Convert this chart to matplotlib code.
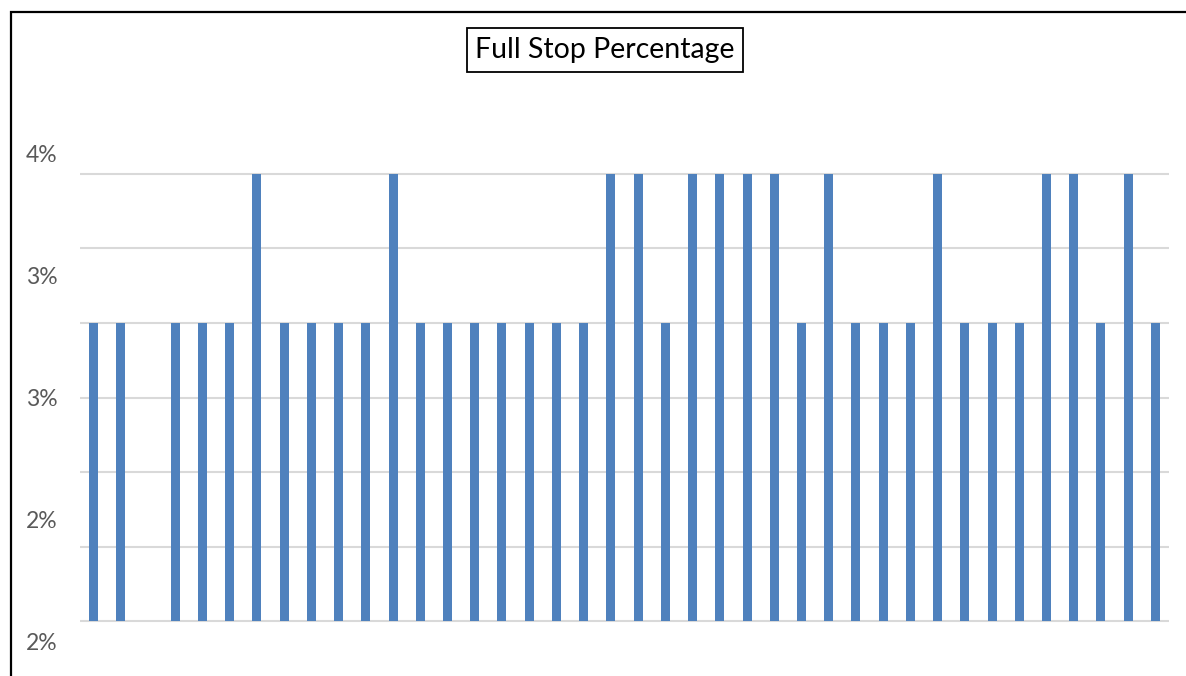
import numpy as np
import matplotlib.pyplot as plt
from matplotlib.patches import Rectangle

# percentual de parada total por dia (40 dias)
valores = [3.333, 3.333, 2.0, 3.333, 3.333, 3.333, 4.0, 3.333, 3.333, 3.333,
           3.333, 4.0, 3.333, 3.333, 3.333, 3.333, 3.333, 3.333, 3.333, 4.0,
           4.0, 3.333, 4.0, 4.0, 4.0, 4.0, 3.333, 4.0, 3.333, 3.333,
           3.333, 4.0, 3.333, 3.333, 3.333, 4.0, 4.0, 3.333, 4.0, 3.333]
base = 2.0

# linhas de grade e rotulos do eixo y
grade = [2.0, 2.333, 2.667, 3.0, 3.333, 3.667, 4.0]
ticks_y = [1.91, 2.455, 3.0, 3.545, 4.09]
rotulos_y = ['2%', '2%', '3%', '3%', '4%']

plt.rcParams['font.family'] = ['Lato', 'DejaVu Sans']

fig = plt.figure(figsize=(11.86, 6.76), dpi=100)
ax = fig.add_axes([80/1186, 16/676, 1089/1186, 530/676])

x = np.arange(len(valores))
alturas = [v - base for v in valores]
ax.bar(x, alturas, bottom=base, width=0.33, color='#4f81bd', zorder=3)

ax.hlines(grade, -0.5, len(valores) - 0.5, color='#d9d9d9', linewidth=1.5, zorder=1)

ax.set_xlim(-0.5, len(valores) - 0.5)
ax.set_ylim(base - 39*2/447, 4.0 + 44*2/447)
ax.set_yticks(ticks_y)
ax.set_yticklabels(rotulos_y)
ax.set_xticks([])
ax.tick_params(axis='y', length=0, pad=16, labelsize=16.5, labelcolor='#595959')
for s in ax.spines.values():
    s.set_visible(False)

# titulo com moldura
fig.text(605/1186, (676-50)/676, 'Full Stop Percentage', ha='center', va='center',
         fontsize=20.5, color='black',
         bbox=dict(boxstyle='square,pad=0.3', facecolor='white', edgecolor='black', linewidth=1.3))

# borda da area do grafico
fig.add_artist(Rectangle((10.5/1186, -0.2), 1.5, (676-11.5)/676 + 0.2,
                         transform=fig.transFigure, fill=False,
                         edgecolor='black', linewidth=1.6, clip_on=False))

fig.savefig('out.png', dpi=100)
